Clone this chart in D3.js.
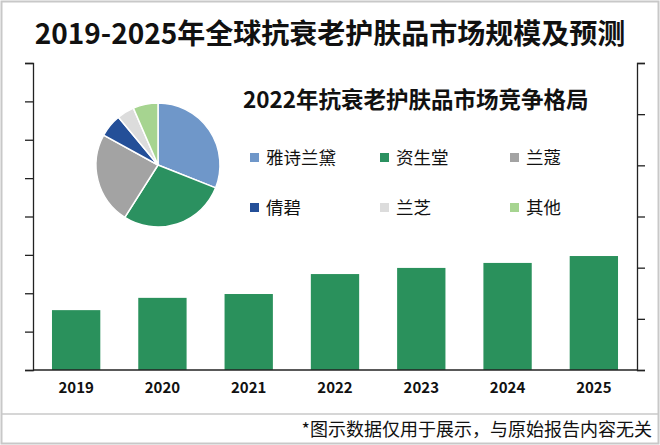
<!DOCTYPE html>
<html><head><meta charset="utf-8">
<script src="https://cdn.jsdelivr.net/npm/d3@7"></script>
<style>body{margin:0;background:#fff}svg{display:block}</style></head>
<body><svg id="c" width="660" height="445"></svg>
<script>
const years = ["2019","2020","2021","2022","2023","2024","2025"];
const marketSize = [1.56, 1.88, 1.98, 2.50, 2.66, 2.79, 2.97];
const leftTicks = [0,1,2,3,4,5,6,7,8];
const rightTicks = [0,1,2,3,4,5,6];
const brands = ["雅诗兰黛","资生堂","兰蔻","倩碧","兰芝","其他"];
const brandShare = [31, 28, 24, 6, 4.5, 6.5];
const brandColors = ["#6f97c9","#2b9160","#a3a3a3","#244f98","#dcdcdc","#a6d490"];

const svg = d3.select("#c");
const font = "'Noto Sans CJK SC','Noto Sans',sans-serif";
svg.append("rect").attr("x",1.5).attr("y",1.5).attr("width",657).attr("height",442).attr("fill","#fff").attr("stroke","#c8c8c8").attr("stroke-width",2);
svg.append("line").attr("x1",2).attr("x2",658).attr("y1",414).attr("y2",414).attr("stroke","#c8c8c8").attr("stroke-width",1.5);

svg.append("text").attr("x",330).attr("y",44).attr("text-anchor","middle").attr("font-family",font)
  .attr("font-weight","bold").attr("font-size",28).attr("fill","#111").text("2019-2025年全球抗衰老护肤品市场规模及预测");

const x = d3.scaleBand().domain(years).range([33,637]).paddingInner(0.44).paddingOuter(0.22);
const y = d3.scaleLinear().domain([0,8]).range([370,63]);
const yR = d3.scaleLinear().domain([0,6]).range([370,63]);

svg.append("g").selectAll("rect").data(years).join("rect")
  .attr("x",d=>x(d)).attr("width",x.bandwidth())
  .attr("y",(d,i)=>y(marketSize[i])).attr("height",(d,i)=>y(0)-y(marketSize[i])).attr("fill","#2a915c");

const gl = svg.append("g").attr("transform","translate(33,0)").call(d3.axisLeft(y).tickValues(leftTicks).tickSize(8).tickFormat(""));
const gr = svg.append("g").attr("transform","translate(637,0)").call(d3.axisRight(yR).tickValues(rightTicks).tickSize(8).tickFormat(""));
[gl,gr].forEach(g=>{g.select(".domain").attr("stroke","#222").attr("stroke-width",1.3);g.selectAll(".tick line").attr("stroke","#222").attr("stroke-width",1.3);});
const gx = svg.append("g").attr("transform","translate(0,370)").call(d3.axisBottom(x).tickSize(0).tickPadding(12));
gx.select(".domain").attr("stroke","#222").attr("stroke-width",1.3).attr("d","M33,0H637");
gx.selectAll("text").attr("font-family",font).attr("font-weight","bold").attr("font-size",15).attr("fill","#111");

// pie
const pie = d3.pie().sort(null).value(d=>d)(brandShare);
const arc = d3.arc().innerRadius(0).outerRadius(62);
svg.append("g").attr("transform","translate(158,165)").selectAll("path").data(pie).join("path")
  .attr("d",arc).attr("fill",(d,i)=>brandColors[i]).attr("stroke","#fff").attr("stroke-width",1.5);

svg.append("text").attr("x",243).attr("y",108).attr("font-family",font).attr("font-weight","bold")
  .attr("font-size",22.5).attr("fill","#111").text("2022年抗衰老护肤品市场竞争格局");
const leg = svg.append("g").selectAll("g").data(brands).join("g")
  .attr("transform",(d,i)=>`translate(${250+(i%3)*130},${158+Math.floor(i/3)*50})`);
leg.append("rect").attr("x",0).attr("y",-5).attr("width",9).attr("height",9).attr("fill",(d,i)=>brandColors[i]);
leg.append("text").attr("x",16).attr("y",6).attr("font-family",font).attr("font-size",17.5).attr("fill","#111").text(d=>d);

svg.append("text").attr("x",652).attr("y",436).attr("text-anchor","end").attr("font-family",font)
  .attr("font-size",18).attr("fill","#111").text("*图示数据仅用于展示，与原始报告内容无关");
</script></body></html>
